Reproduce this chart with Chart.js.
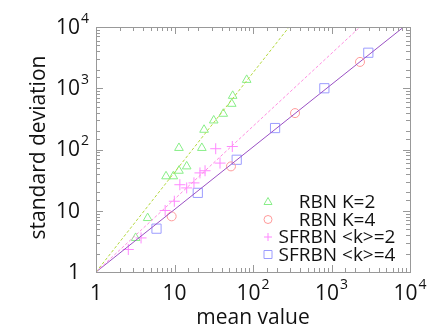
<!DOCTYPE html>
<html>
<head>
<meta charset="utf-8">
<script src="https://cdn.jsdelivr.net/npm/chart.js@4"></script>
<style>body{margin:0;background:#fff;}</style>
</head>
<body>
<canvas id="myChart" width="436" height="331"></canvas>
<script>
// values (mean value, standard deviation)
const rbn2X = [3.2, 4.55, 7.8, 9.65, 11.4, 14.3, 11.4, 22.3, 23.8, 31.6, 41.8, 53.6, 55.1, 83.1];
const rbn2Y = [3.6, 7.6, 36.5, 36.5, 45, 53, 106, 106, 210, 298, 383, 557, 752, 1370];
const rbn4X = [9.2, 52.4, 343, 2307];
const rbn4Y = [8.1, 53, 393, 2690];
const sf2X = [2.58, 3.75, 7.6, 9.95, 11.7, 14.3, 17.7, 21.1, 24.5, 38, 33.5, 54.5];
const sf2Y = [2.33, 3.6, 10.1, 14.3, 26.6, 23.6, 28.5, 41.5, 45, 60, 103, 112];
const sf4X = [5.9, 19.8, 62, 191, 811, 2944];
const sf4Y = [5.1, 19.6, 68, 224, 1000, 3800];

// fitted lines, start and end points
const fitK2X = [1, 288], fitK2Y = [1, 10000];
const fitSf2X = [1, 2307], fitSf2Y = [1, 10000];
const fitK4X = [1, 8300], fitK4Y = [1, 10000];

const tickValues = [1, 10, 100, 1000, 10000];
const tickLabels = [['1', ''], ['10', ''], ['10', '2'], ['10', '3'], ['10', '4']];
const legendNames = ['RBN K=2', 'RBN K=4', 'SFRBN <k>=2', 'SFRBN <k>=4'];

const FONT = '"Open Sans", "DejaVu Sans", sans-serif';

function pts(xs, ys) {
    return xs.map((x, i) => ({x: x, y: ys[i]}));
}

function isPow10(v) {
    let l = Math.log10(v);
    return Math.abs(l - Math.round(l)) < 1e-9;
}

function line(ctx, x1, y1, x2, y2) {
    ctx.beginPath();
    ctx.moveTo(x1, y1);
    ctx.lineTo(x2, y2);
    ctx.stroke();
}

function drawMark(ctx, style, x, y, color) {
    ctx.save();
    ctx.strokeStyle = color;
    ctx.lineWidth = 1;
    ctx.beginPath();
    if (style == 'triangle') {
        ctx.moveTo(x, y - 4.5);
        ctx.lineTo(x + 4, y + 2.5);
        ctx.lineTo(x - 4, y + 2.5);
        ctx.closePath();
    } else if (style == 'circle') {
        ctx.arc(x, y, 4, 0, Math.PI * 2);
    } else if (style == 'cross') {
        ctx.moveTo(x - 4, y); ctx.lineTo(x + 4, y);
        ctx.moveTo(x, y - 4); ctx.lineTo(x, y + 4);
    } else {
        ctx.rect(x - 4, y - 4, 8, 8);
    }
    ctx.stroke();
    ctx.restore();
}

const frame = {
    id: 'frame',
    afterDraw(chart) {
        const ctx = chart.ctx;
        const a = chart.chartArea;
        const x = chart.scales.x, y = chart.scales.y;
        ctx.save();
        ctx.strokeStyle = '#999';
        ctx.lineWidth = 1;
        ctx.strokeRect(a.left + 0.5, a.top + 0.5, a.right - a.left, a.bottom - a.top);
        x.ticks.forEach(t => {
            let px = Math.round(x.getPixelForValue(t.value)) + 0.5;
            let len = isPow10(t.value) ? 7 : 4;
            line(ctx, px, a.bottom, px, a.bottom - len);
            line(ctx, px, a.top, px, a.top + len);
        });
        y.ticks.forEach(t => {
            let py = Math.round(y.getPixelForValue(t.value)) + 0.5;
            let len = isPow10(t.value) ? 7 : 4;
            line(ctx, a.left, py, a.left + len, py);
            line(ctx, a.right, py, a.right - len, py);
        });

        // tick labels
        ctx.fillStyle = '#111';
        ctx.textBaseline = 'middle';
        tickValues.forEach((v, i) => {
            let base = tickLabels[i][0], exp = tickLabels[i][1];
            ctx.font = '21px ' + FONT;
            let bw = ctx.measureText(base).width;
            ctx.font = '14px ' + FONT;
            let ew = exp ? ctx.measureText(exp).width + 1 : 0;
            // x axis
            let px = x.getPixelForValue(v);
            let lx = px - (bw + ew) / 2;
            ctx.textAlign = 'left';
            ctx.font = '21px ' + FONT;
            ctx.fillText(base, lx, a.bottom + 22);
            if (exp) {
                ctx.font = '14px ' + FONT;
                ctx.fillText(exp, lx + bw + 1, a.bottom + 13);
            }
            // y axis
            let py = y.getPixelForValue(v);
            ctx.font = '21px ' + FONT;
            ctx.textAlign = 'right';
            ctx.fillText(base, 80, py + 1);
            if (exp) {
                ctx.font = '14px ' + FONT;
                ctx.textAlign = 'left';
                ctx.fillText(exp, 81, py - 8);
            }
        });

        // axis titles
        ctx.font = '21px ' + FONT;
        ctx.textAlign = 'center';
        ctx.textBaseline = 'alphabetic';
        ctx.fillText('mean value', (a.left + a.right) / 2, 324);
        ctx.save();
        ctx.translate(45, (a.top + a.bottom) / 2 - 2);
        ctx.rotate(-Math.PI / 2);
        ctx.fillText('standard deviation', 0, 0);
        ctx.restore();

        // legend
        const marks = chart.data.datasets.filter(d => d.legendRow !== undefined);
        marks.forEach(d => {
            let ly = 202 + d.legendRow * 17.5;
            drawMark(ctx, d.pointStyle, 268, ly, d.borderColor);
            ctx.font = '19px ' + FONT;
            ctx.fillStyle = '#111';
            ctx.textAlign = 'center';
            ctx.textBaseline = 'middle';
            ctx.fillText(legendNames[d.legendRow], 337, ly + 1);
        });
        ctx.restore();
    }
};

const ctx = document.getElementById('myChart');

const myChart = new Chart(ctx, {
    type: 'scatter',
    data: {
        datasets: [
            {data: pts(fitK2X, fitK2Y), showLine: true, pointRadius: 0, borderColor: '#b4d840', borderWidth: 1, borderDash: [3, 2]},
            {data: pts(fitSf2X, fitSf2Y), showLine: true, pointRadius: 0, borderColor: '#ff8ee0', borderWidth: 1, borderDash: [3, 2]},
            {data: pts(fitK4X, fitK4Y), showLine: true, pointRadius: 0, borderColor: '#9a50c4', borderWidth: 1},
            {data: pts(rbn2X, rbn2Y), legendRow: 0, pointStyle: 'triangle', pointRadius: 5, borderColor: '#88ee88', backgroundColor: 'transparent', borderWidth: 1},
            {data: pts(rbn4X, rbn4Y), legendRow: 1, pointStyle: 'circle', pointRadius: 4.5, borderColor: '#ff9a9a', backgroundColor: 'transparent', borderWidth: 1},
            {data: pts(sf2X, sf2Y), legendRow: 2, pointStyle: 'cross', pointRadius: 5.5, borderColor: '#ff88ff', backgroundColor: 'transparent', borderWidth: 1},
            {data: pts(sf4X, sf4Y), legendRow: 3, pointStyle: 'rect', pointRadius: 6.5, borderColor: '#9c9cff', backgroundColor: 'transparent', borderWidth: 1}
        ]
    },
    options: {
        responsive: false,
        animation: false,
        devicePixelRatio: 1,
        layout: {padding: {left: 0, right: 26, top: 27, bottom: 0}},
        plugins: {legend: {display: false}, tooltip: {enabled: false}},
        scales: {
            x: {
                type: 'logarithmic', min: 1, max: 10000,
                ticks: {display: false},
                grid: {display: false},
                border: {display: false},
                afterFit: (s) => { s.height = 59; }
            },
            y: {
                type: 'logarithmic', min: 1, max: 10000,
                ticks: {display: false},
                grid: {display: false},
                border: {display: false},
                afterFit: (s) => { s.width = 96; }
            }
        }
    },
    plugins: [frame]
});
</script>
</body>
</html>
